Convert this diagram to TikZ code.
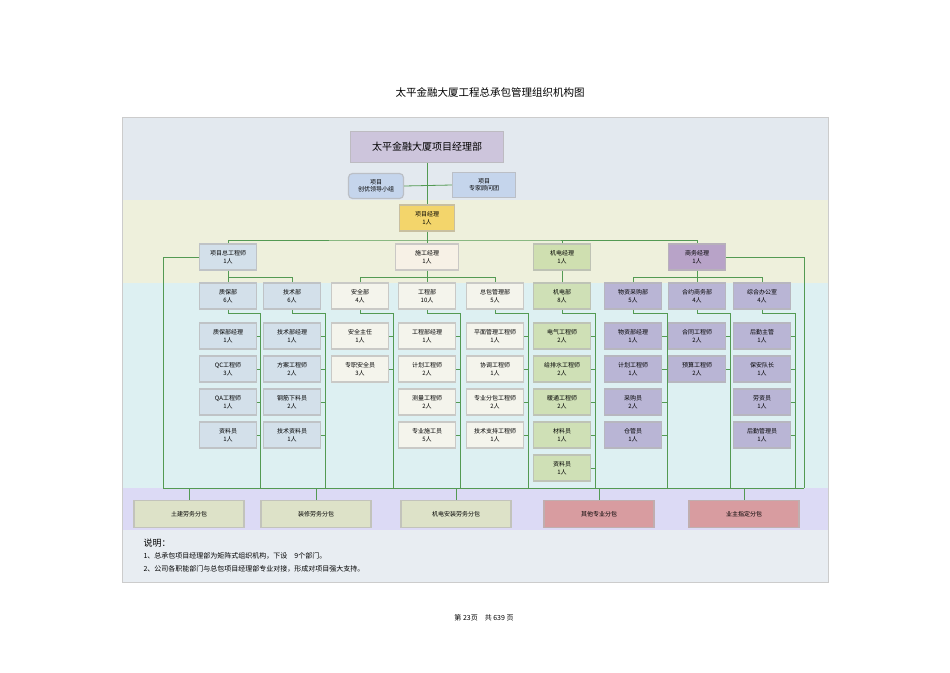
\documentclass[tikz,border=0pt]{standalone}
\usepackage{fontspec}
\setmainfont{Noto Sans CJK SC}
\begin{document}
\begin{tikzpicture}[x=1pt,y=-1pt,
  bx/.style={draw=#1!60!black!50, line width=1.2pt, fill=#1, minimum width=57pt, minimum height=26pt, inner sep=0pt, align=center, font=\fontsize{6}{7.5}\selectfont},
  ln/.style={draw=black!20!green!35!gray, line width=0.8pt}]
\definecolor{cbg1}{HTML}{E3E9EF}\definecolor{cbg2}{HTML}{EEF0DC}\definecolor{cbg3}{HTML}{DDF0F2}
\definecolor{cbg4}{HTML}{DCDAF5}\definecolor{cbg5}{HTML}{E8EDF2}
\definecolor{cblue}{HTML}{D3E0EA}\definecolor{cwhite}{HTML}{F4F4EC}\definecolor{cgreen}{HTML}{CFE0B6}
\definecolor{cpur}{HTML}{B9B5D5}\definecolor{ctop}{HTML}{CDC5DC}\definecolor{cgrp}{HTML}{C5D5EC}
\definecolor{cyel}{HTML}{F3D56B}\definecolor{cbeige}{HTML}{F7F1E6}\definecolor{cmg}{HTML}{CFDFB0}
\definecolor{cbiz}{HTML}{B8A3C8}\definecolor{csub}{HTML}{DDE2C8}\definecolor{cred}{HTML}{D89CA0}
\useasboundingbox (0,0) rectangle (950,672);
\fill[white] (0,0) rectangle (950,672);
\fill[cbg1] (122,117) rectangle (828,200);
\fill[cbg2] (122,200) rectangle (828,283);
\fill[cbg3] (122,283) rectangle (828,488);
\fill[cbg4] (122,488) rectangle (828,530);
\fill[cbg5] (122,530) rectangle (828,582);
\draw[black!20] (122,117) rectangle (828,582);
\node[font=\fontsize{10.5}{12}\selectfont] (title) at (490,92) {太平金融大厦工程总承包管理组织机构图};
% top
\node[bx=ctop, minimum width=153pt, minimum height=31pt, font=\fontsize{10}{12}\selectfont] (top) at (427,147) {太平金融大厦项目经理部};
\node[bx=cgrp, minimum width=55pt, minimum height=25pt, rounded corners=4pt] (cy) at (376,186) {项目\\创优领导小组};
\node[bx=cgrp, minimum width=63pt, minimum height=25pt] (zj) at (484,185) {项目\\专家顾问团};
\node[bx=cyel, minimum width=55pt] (pm) at (427,218) {项目经理\\1人};
\draw[ln] (top.south) -- (pm.north);
\draw[ln] (cy.east) -- (zj.west);
\node[bx=cblue] (zg) at (228,257) {项目总工程师\\1人};
\node[bx=cbeige, minimum width=63pt] (sg) at (427,257) {施工经理\\1人};
\node[bx=cmg] (jd) at (562,257) {机电经理\\1人};
\node[bx=cbiz] (sw) at (697,257) {商务经理\\1人};
\draw[ln] (pm.south) -- (427,240);
\draw[ln] (zg.north) |- (427,240) -| (sw.north);
\draw[ln] (427,240) -- (sg.north);
\draw[ln] (jd.north) -- (562,240);
\coordinate (bl) at (163,488); \coordinate (br) at (804,488);
\draw[ln] (zg.west) -| (bl);
\draw[ln] (sw.east) -| (br);
\draw[ln] (bl) -- (br);
% departments
\newcommand{\dept}[6]{%
  \node[bx=#4] (d#1) at (#2,296) {#5};
  \draw[ln] (d#1.south) -- (#2,313) -| (#3,488);
  \foreach \t [count=\k] in {#6} {
    \node[bx=#4] (s#1\k) at (#2,303+33*\k) {\t};
    \draw[ln] (s#1\k.east) -- (#3,303+33*\k);
  }}
\dept{a}{228}{260}{cblue}{质保部\\6人}{{质保部经理\\1人},{QC工程师\\3人},{QA工程师\\1人},{资料员\\1人}}
\dept{b}{292}{325}{cblue}{技术部\\6人}{{技术部经理\\1人},{方案工程师\\2人},{钢筋下料员\\2人},{技术资料员\\1人}}
\dept{c}{360}{393}{cwhite}{安全部\\4人}{{安全主任\\1人},{专职安全员\\3人}}
\dept{d}{427}{460}{cwhite}{工程部\\10人}{{工程部经理\\1人},{计划工程师\\2人},{测量工程师\\2人},{专业施工员\\5人}}
\dept{e}{495}{528}{cwhite}{总包管理部\\5人}{{平面管理工程师\\1人},{协调工程师\\1人},{专业分包工程师\\2人},{技术支持工程师\\1人}}
\dept{f}{562}{595}{cgreen}{机电部\\8人}{{电气工程师\\2人},{给排水工程师\\2人},{暖通工程师\\2人},{材料员\\1人},{资料员\\1人}}
\dept{g}{633}{667}{cpur}{物资采购部\\5人}{{物资部经理\\1人},{计划工程师\\1人},{采购员\\2人},{仓管员\\1人}}
\dept{h}{697}{730}{cpur}{合约商务部\\4人}{{合同工程师\\2人},{预算工程师\\2人}}
\dept{i}{762}{795}{cpur}{综合办公室\\4人}{{后勤主管\\1人},{保安队长\\1人},{劳资员\\1人},{后勤管理员\\1人}}
\draw[ln] (zg.south) -- (228,277) -| (db.north); \draw[ln] (228,277) -- (da.north);
\draw[ln] (sg.south) -- (427,277) -| (dc.north); \draw[ln] (427,277) -| (de.north); \draw[ln] (427,277) -- (dd.north);
\draw[ln] (jd.south) -- (df.north);
\draw[ln] (sw.south) -- (697,277) -| (dg.north); \draw[ln] (697,277) -| (di.north); \draw[ln] (697,277) -- (dh.north);
% subcontract
\foreach \n/\x/\c/\t in {p1/189/csub/土建劳务分包,p2/316/csub/装修劳务分包,p3/456/csub/机电安装劳务分包,p4/599/cred/其他专业分包,p5/744/cred/业主指定分包}{
  \node[bx=\c, minimum width=110pt, minimum height=27pt] (\n) at (\x,514) {\t};
  \draw[ln] (\x,488) -- (\n.north);
}
\node[anchor=west, font=\fontsize{9}{11}\selectfont] (nt) at (140,543) {说明：};
\node[anchor=west, font=\fontsize{7}{9}\selectfont] (n1) at (140,556) {1、总承包项目经理部为矩阵式组织机构，下设\quad 9个部门。};
\node[anchor=west, font=\fontsize{7}{9}\selectfont] (n2) at (140,569) {2、公司各职能部门与总包项目经理部专业对接，形成对项目强大支持。};
\node[font=\fontsize{7}{9}\selectfont] (ft) at (484,618) {第 23页\quad 共 639 页};
\end{tikzpicture}
\end{document}
